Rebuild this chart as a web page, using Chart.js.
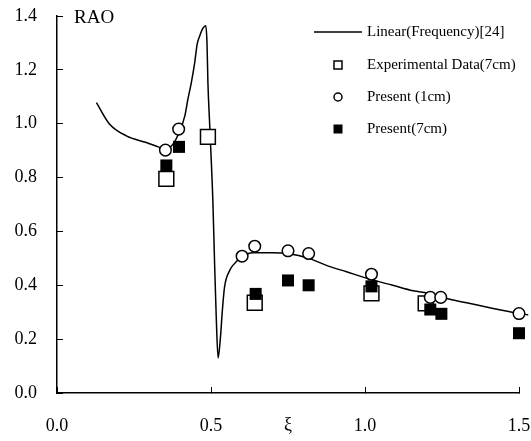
<!DOCTYPE html>
<html lang="en">
  <head>
    <meta charset="UTF-8" />
    <title>RAO</title>
    <script src="https://cdn.jsdelivr.net/npm/chart.js@4"></script>
    <style>
      body { margin: 0; background: #fff; }
    </style>
  </head>
  <body>
    <canvas id="myChart" width="531" height="441"></canvas>

    <script>
      // values
      const seriesNames = ['Linear(Frequency)[24]', 'Experimental Data(7cm)', 'Present (1cm)', 'Present(7cm)'];

      const linearXi = [0.128, 0.171, 0.225, 0.29, 0.333, 0.355, 0.38, 0.398, 0.415, 0.425, 0.436, 0.447, 0.455,
        0.463, 0.474, 0.483, 0.487, 0.49, 0.496, 0.506, 0.512, 0.517, 0.523, 0.53, 0.537, 0.544, 0.561, 0.571,
        0.599, 0.636, 0.70, 0.75, 0.82, 0.875, 0.94, 1.02, 1.09, 1.156, 1.21, 1.264, 1.33, 1.416, 1.497, 1.53];
      const linearRao = [1.078, 0.998, 0.955, 0.93, 0.912, 0.904, 0.93, 0.972, 1.029, 1.091, 1.152, 1.226, 1.295,
        1.325, 1.355, 1.364, 1.30, 1.152, 0.99, 0.715, 0.468, 0.283, 0.13, 0.197, 0.308, 0.394, 0.456, 0.474,
        0.505, 0.521, 0.521, 0.518, 0.499, 0.474, 0.45, 0.421, 0.40, 0.38, 0.37, 0.351, 0.335, 0.314, 0.296, 0.29];

      const expXi = [0.355, 0.49, 0.642, 1.021, 1.197];
      const expRao = [0.795, 0.951, 0.335, 0.37, 0.333];

      const p1Xi = [0.352, 0.395, 0.601, 0.642, 0.75, 0.817, 1.021, 1.212, 1.246, 1.5];
      const p1Rao = [0.902, 0.98, 0.508, 0.545, 0.528, 0.518, 0.441, 0.355, 0.355, 0.295];

      const p7Xi = [0.355, 0.396, 0.645, 0.75, 0.817, 1.021, 1.212, 1.248, 1.5];
      const p7Rao = [0.845, 0.914, 0.368, 0.418, 0.40, 0.396, 0.31, 0.294, 0.222];

      const toPoints = (xs, ys) => xs.map((x, i) => ({ x: x, y: ys[i] }));
      const serif = '"Liberation Serif", "Times New Roman", serif';

      const noPad = s => {
        s.paddingLeft = 0;
        s.paddingRight = 0;
        s.paddingTop = 0;
        s.paddingBottom = 0;
      };

      const extras = {
        id: 'extras',
        afterDraw(chart) {
          const { ctx, chartArea } = chart;
          ctx.save();
          ctx.fillStyle = '#000';
          ctx.strokeStyle = '#000';
          ctx.font = '19px ' + serif;
          ctx.textBaseline = 'alphabetic';
          ctx.fillText('RAO', chartArea.left + 17, chartArea.top + 7);

          // legend
          const mx = chartArea.left + 281;
          const tx = chartArea.left + 310;
          const rows = [16, 49, 81, 113].map(d => chartArea.top + d);
          ctx.font = '15px ' + serif;
          ctx.textBaseline = 'middle';
          ctx.lineWidth = 1.5;

          ctx.beginPath();
          ctx.moveTo(mx - 24, rows[0]);
          ctx.lineTo(mx + 24, rows[0]);
          ctx.stroke();

          ctx.fillStyle = '#fff';
          ctx.fillRect(mx - 4, rows[1] - 4, 8, 8);
          ctx.strokeRect(mx - 4, rows[1] - 4, 8, 8);

          ctx.beginPath();
          ctx.arc(mx, rows[2], 4, 0, Math.PI * 2);
          ctx.fill();
          ctx.stroke();

          ctx.fillStyle = '#000';
          ctx.fillRect(mx - 4.5, rows[3] - 4.5, 9, 9);

          seriesNames.forEach((name, i) => ctx.fillText(name, tx, rows[i]));
          ctx.restore();
        }
      };

      const ctx = document.getElementById('myChart').getContext('2d');
      const myChart = new Chart(ctx, {
        type: 'scatter',
        data: {
          datasets: [
            {
              label: seriesNames[0],
              type: 'line',
              data: toPoints(linearXi, linearRao),
              borderColor: '#000',
              borderWidth: 1.5,
              pointRadius: 0,
              cubicInterpolationMode: 'monotone',
              fill: false,
              clip: false,
              order: 4
            },
            {
              label: seriesNames[1],
              data: toPoints(expXi, expRao),
              pointStyle: 'rect',
              pointRadius: 10.5,
              backgroundColor: '#fff',
              borderColor: '#000',
              borderWidth: 1.5,
              order: 3
            },
            {
              label: seriesNames[2],
              data: toPoints(p1Xi, p1Rao),
              pointStyle: 'circle',
              pointRadius: 5.8,
              backgroundColor: '#fff',
              borderColor: '#000',
              borderWidth: 1.5,
              clip: false,
              order: 1
            },
            {
              label: seriesNames[3],
              data: toPoints(p7Xi, p7Rao),
              pointStyle: 'rect',
              pointRadius: 8.5,
              backgroundColor: '#000',
              borderColor: '#000',
              borderWidth: 0,
              clip: false,
              order: 2
            }
          ]
        },
        options: {
          responsive: false,
          animation: false,
          events: [],
          layout: { autoPadding: false, padding: { top: 16, right: 12, left: 0, bottom: 0 } },
          plugins: {
            legend: { display: false },
            tooltip: { enabled: false }
          },
          scales: {
            x: {
              type: 'linear',
              min: 0,
              max: 1.5,
              afterFit: s => { s.height = 48; noPad(s); },
              border: { display: true, color: '#000', width: 1.5 },
              grid: { drawOnChartArea: false, color: '#000', lineWidth: 1, tickLength: -6 },
              ticks: {
                stepSize: 0.5,
                padding: 28,
                color: '#000',
                font: { family: serif, size: 18 },
                maxRotation: 0,
                callback: v => v.toFixed(1)
              },
              title: {
                display: true,
                text: 'ξ',
                color: '#000',
                font: { family: serif, size: 18 },
                padding: { top: 0, bottom: 5 }
              }
            },
            y: {
              min: 0,
              max: 1.4,
              afterFit: s => { s.width = 57; noPad(s); },
              border: { display: true, color: '#000', width: 1.5 },
              grid: { drawOnChartArea: false, color: '#000', lineWidth: 1, tickLength: -6 },
              ticks: {
                stepSize: 0.2,
                padding: 26,
                color: '#000',
                font: { family: serif, size: 18 },
                callback: v => v.toFixed(1)
              }
            }
          }
        },
        plugins: [extras]
      });
    </script>
  </body>
</html>
